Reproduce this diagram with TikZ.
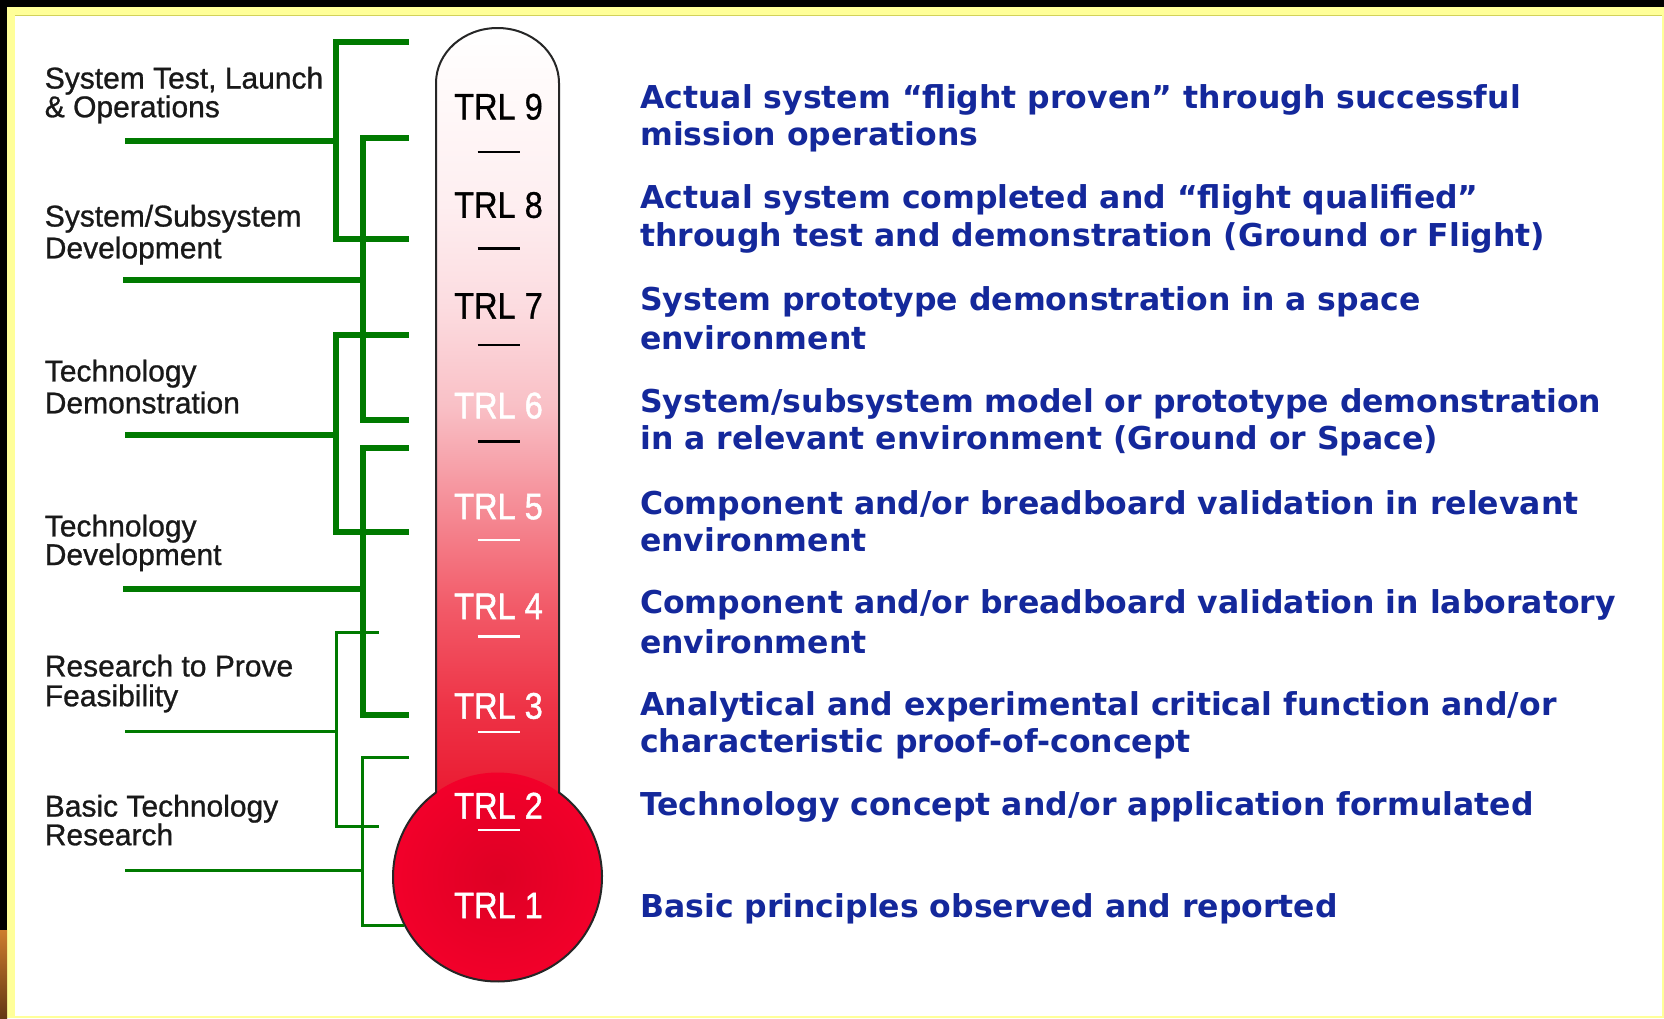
\documentclass[tikz,border=0pt]{standalone}
\usepackage{fontspec}
\setmainfont{Liberation Sans}
\newfontfamily\leftfont{Liberation Sans}[FakeBold=0.9]
\newfontfamily\trlfont{Liberation Sans}[FakeBold=0.8]
\newfontfamily\trlwfont{Liberation Sans}[FakeBold=1.3]
\newfontfamily\descfont{DejaVu Sans}
\definecolor{grn}{RGB}{0,122,0}
\definecolor{dblue}{RGB}{20,40,155}
\definecolor{frameyel}{RGB}{255,255,153}
\definecolor{frameline}{RGB}{210,210,90}
\definecolor{bulbin}{RGB}{222,0,36}
\definecolor{bulbout}{RGB}{242,0,42}
\definecolor{tA}{RGB}{233,22,46}
\definecolor{tB}{RGB}{238,51,70}
\definecolor{tC}{RGB}{242,90,104}
\definecolor{tD}{RGB}{245,140,150}
\definecolor{tE}{RGB}{249,192,198}
\definecolor{tF}{RGB}{252,220,224}
\definecolor{tG}{RGB}{254,238,240}
\definecolor{tH}{RGB}{255,248,248}
\definecolor{orA}{RGB}{205,125,45}
\definecolor{orB}{RGB}{100,55,20}
\pgfdeclareverticalshading{tubeshade}{100bp}{color(0bp)=(tA); color(25bp)=(tA); color(31.65bp)=(tB); color(38.04bp)=(tC); color(44.44bp)=(tD); color(50.9bp)=(tE); color(57.23bp)=(tF); color(63.68bp)=(tG); color(70.01bp)=(tH); color(75bp)=(white); color(100bp)=(white)}
\begin{document}
\begin{tikzpicture}[x=1pt,y=-1pt,
  line join=miter,
  grnthick/.style={draw=grn,line width=6pt},
  grnthin/.style={draw=grn,line width=3pt},
  leftlab/.style={anchor=base west,inner sep=0pt,font=\leftfont\fontsize{30}{30}\selectfont,text=black!90},
  desc/.style={anchor=base west,inner sep=0pt,font=\descfont\bfseries\fontsize{31.5}{37}\selectfont,text=dblue},
  trl/.style={anchor=base,inner sep=0pt,font=\trlfont\fontsize{37}{40}\selectfont,text=black},
  trlw/.style={anchor=base,inner sep=0pt,font=\trlwfont\fontsize{37}{40}\selectfont,text=white},
  dashblk/.style={draw=black,line width=2.5pt},
  dashwht/.style={draw=white,line width=2.5pt}]
\useasboundingbox (0,0) rectangle (1664,1018);
% frame
\fill[black] (0,0) rectangle (1664,1018);
\fill[frameyel] (7,7) rectangle (1664,1018);
\fill[white] (15,15) rectangle (1662,1016);
\draw[frameline,line width=1pt] (15,15) -- (1662,15);
\shade[top color=orA,bottom color=orB] (0,930) rectangle (7,1018);
% thermometer
\path[shading=tubeshade] (436,812) -- (436,83) arc[start angle=180,end angle=360,x radius=61.5,y radius=55] -- (559,812) -- cycle;
\path[shading=radial,inner color=bulbin,outer color=bulbout] (497.5,877) circle[radius=104.5];
\draw[line width=2pt,draw=black!85] (436,792.5) -- (436,83) arc[start angle=180,end angle=360,x radius=61.5,y radius=55] -- (559,792.5) arc[start angle=-53.95,end angle=233.95,radius=104.5];
% TRL labels
\node[trl] (t9) at (498.5,119.5) {\scalebox{0.88}[1]{TRL 9}};
\node[trl] (t8) at (498.5,217.8) {\scalebox{0.88}[1]{TRL 8}};
\node[trl] (t7) at (498.5,318.6) {\scalebox{0.88}[1]{TRL 7}};
\node[trlw] (t6) at (498.5,418.4) {\scalebox{0.88}[1]{TRL 6}};
\node[trlw] (t5) at (498.5,519.2) {\scalebox{0.88}[1]{TRL 5}};
\node[trlw] (t4) at (498.5,619) {\scalebox{0.88}[1]{TRL 4}};
\node[trlw] (t3) at (498.5,718.7) {\scalebox{0.88}[1]{TRL 3}};
\node[trlw] (t2) at (498.5,818.5) {\scalebox{0.88}[1]{TRL 2}};
\node[trlw] (t1) at (498.5,918.2) {\scalebox{0.88}[1]{TRL 1}};
\draw[dashblk] (477.5,151.8) -- (520,151.8);
\draw[dashblk] (477.5,248.3) -- (520,248.3);
\draw[dashblk] (477.5,344.9) -- (520,344.9);
\draw[dashblk] (477.5,441.5) -- (520,441.5);
\draw[dashwht] (477.5,540.1) -- (520,540.1);
\draw[dashwht] (477.5,636.7) -- (520,636.7);
\draw[dashwht] (477.5,732.2) -- (520,732.2);
\draw[dashwht] (477.5,829.9) -- (520,829.9);
% left labels
\node[leftlab] (l1a) at (44.6,88.5) {System Test, Launch};
\node[leftlab] (l1b) at (44.6,117.2) {\& Operations};
\node[leftlab] (l2a) at (44.6,226.5) {System/Subsystem};
\node[leftlab] (l2b) at (44.6,258.3) {Development};
\node[leftlab] (l3a) at (44.6,381.4) {Technology};
\node[leftlab] (l3b) at (44.6,413.3) {Demonstration};
\node[leftlab] (l4a) at (44.6,536.4) {Technology};
\node[leftlab] (l4b) at (44.6,565) {Development};
\node[leftlab] (l5a) at (44.6,676.4) {Research to Prove};
\node[leftlab] (l5b) at (44.6,706.2) {Feasibility};
\node[leftlab] (l6a) at (44.6,816.5) {Basic Technology};
\node[leftlab] (l6b) at (44.6,845.2) {Research};
% green brackets
\coordinate (g1s) at (125,141.1);  \coordinate (g1t) at (408.6,42.4);  \coordinate (g1b) at (408.6,238.8);
\coordinate (g2s) at (123,280.2);  \coordinate (g2t) at (408.6,138);   \coordinate (g2b) at (408.6,420.2);
\coordinate (g3s) at (125,435.1);  \coordinate (g3t) at (408.6,335.3); \coordinate (g3b) at (408.6,531.7);
\coordinate (g4s) at (123,589);    \coordinate (g4t) at (408.6,447.8); \coordinate (g4b) at (408.6,715.2);
\coordinate (g5s) at (125,731.2);  \coordinate (g5t) at (378.8,632.5); \coordinate (g5b) at (378.8,826.7);
\coordinate (g6s) at (125,870.2);  \coordinate (g6t) at (408.6,757.7); \coordinate (g6b) at (404,925.4);
\draw[grnthick] (g1t) -- (336.4,42.4) -- (336.4,238.8) -- (g1b);
\draw[grnthick] (g1s) -- (336.4,141.1);
\draw[grnthick] (g2t) -- (362.9,138) -- (362.9,420.2) -- (g2b);
\draw[grnthick] (g2s) -- (362.9,280.2);
\draw[grnthick] (g3t) -- (336.4,335.3) -- (336.4,531.7) -- (g3b);
\draw[grnthick] (g3s) -- (336.4,435.1);
\draw[grnthick] (g4t) -- (362.9,447.8) -- (362.9,715.2) -- (g4b);
\draw[grnthick] (g4s) -- (362.9,589);
\draw[grnthin] (g5t) -- (336.4,632.5) -- (336.4,826.7) -- (g5b);
\draw[grnthin] (g5s) -- (336.4,731.2);
\draw[grnthin] (g6t) -- (362.9,757.7) -- (362.9,925.4) -- (g6b);
\draw[grnthin] (g6s) -- (362.9,870.2);
% descriptions
\node[desc] (d9a) at (640,108.6) {Actual system “flight proven” through successful};
\node[desc] (d9b) at (640,145.7) {mission operations};
\node[desc] (d8a) at (640,208.3) {Actual system completed and “flight qualified”};
\node[desc] (d8b) at (640,246.5) {through test and demonstration (Ground or Flight)};
\node[desc] (d7a) at (640,310.2) {System prototype demonstration in a space};
\node[desc] (d7b) at (640,349.5) {environment};
\node[desc] (d6a) at (640,412.1) {System/subsystem model or prototype demonstration};
\node[desc] (d6b) at (640,449.2) {in a relevant environment (Ground or Space)};
\node[desc] (d5a) at (640,514) {Component and/or breadboard validation in relevant};
\node[desc] (d5b) at (640,551.1) {environment};
\node[desc] (d4a) at (640,613.7) {Component and/or breadboard validation in laboratory};
\node[desc] (d4b) at (640,653) {environment};
\node[desc] (d3a) at (640,715.6) {Analytical and experimental critical function and/or};
\node[desc] (d3b) at (640,752.7) {characteristic proof-of-concept};
\node[desc] (d2) at (640,815.3) {Technology concept and/or application formulated};
\node[desc] (d1) at (640,917.2) {Basic principles observed and reported};
\end{tikzpicture}
\end{document}
